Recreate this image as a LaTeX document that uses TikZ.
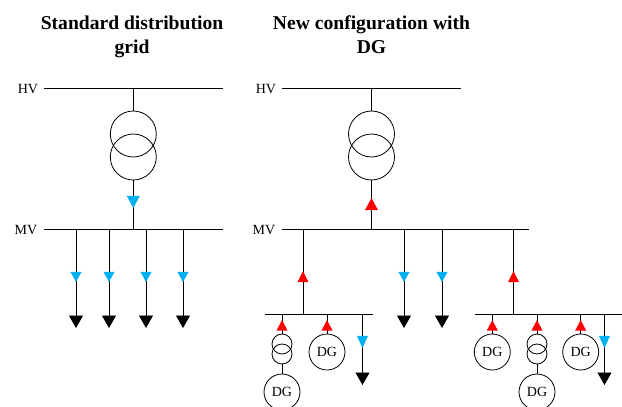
\documentclass[tikz,border=0pt]{standalone}
\usepackage{fontspec}
\setmainfont{Liberation Serif}
\usepackage{xcolor}
\usepackage{tikz}
\usetikzlibrary{arrows.meta,shapes.geometric}
\definecolor{flowblue}{RGB}{0,176,240}
\tikzset{
	bus/.style={line width=0.9pt},
	winding/.style={draw,circle,inner sep=0pt,line width=0.8pt},
	gen/.style={draw,circle,inner sep=0pt,minimum size=36pt,line width=0.8pt,font=\fontsize{14}{14}\selectfont},
	tip/.style={isosceles triangle,isosceles triangle stretches,inner sep=0pt,anchor=apex},
	down/.style={tip,shape border rotate=-90},
	up/.style={tip,shape border rotate=90},
	load/.style={-{Triangle[length=12.5pt,width=14pt]}},
	volt/.style={font=\fontsize{14}{14}\selectfont},
	heading/.style={anchor=base,font=\fontsize{19.6}{19.6}\selectfont\bfseries}
}
\begin{document}
\begin{tikzpicture}[x=1pt,y=-1pt,line width=0.8pt]
		\useasboundingbox (0,0) rectangle (622,407);
		%
		\node[heading] (T1) at (132,29) {Standard distribution};
		\node[heading] (T2) at (132,53) {grid};
		\node[heading] (T3) at (371.5,29) {New configuration with};
		\node[heading] (T4) at (371.5,53) {DG};
		%
		\node[volt] (HV1) at (28,89) {HV};
		\node[volt] (MV1) at (26,230) {MV};
		\node[volt] (HV2) at (266,89) {HV};
		\node[volt] (MV2) at (264,230) {MV};
		%
		% buses
		\coordinate (a1) at (44,88.5);
		\coordinate (a2) at (223,88.5);
		\coordinate (b1) at (44,229.5);
		\coordinate (b2) at (223,229.5);
		\coordinate (c1) at (282,88.5);
		\coordinate (c2) at (461,88.5);
		\coordinate (d1) at (282,229.5);
		\coordinate (d2) at (529,229.5);
		\coordinate (e1) at (265,314.5);
		\coordinate (e2) at (373,314.5);
		\coordinate (g1) at (475,314.5);
		\coordinate (g2) at (622,314.5);
		\draw[bus] (a1) -- (a2);
		\draw[bus] (b1) -- (b2);
		\draw[bus] (c1) -- (c2);
		\draw[bus] (d1) -- (d2);
		\draw[bus] (e1) -- (e2);
		\draw[bus] (g1) -- (g2);
		%
		% transformers
		\node[winding,minimum size=46pt] (P1) at (133.3,134) {};
		\node[winding,minimum size=46pt] (S1) at (133.3,157) {};
		\node[winding,minimum size=46pt] (P2) at (371.5,134) {};
		\node[winding,minimum size=46pt] (S2) at (371.5,157) {};
		\node[winding,minimum size=20pt] (P3) at (282,344) {};
		\node[winding,minimum size=20pt] (S3) at (282,354) {};
		\node[winding,minimum size=20pt] (P4) at (537,344) {};
		\node[winding,minimum size=20pt] (S4) at (537,354) {};
		%
		% generators
		\node[gen] (G1) at (282,392) {DG};
		\node[gen] (G2) at (327,352) {DG};
		\node[gen] (G3) at (492.3,352) {DG};
		\node[gen] (G4) at (537,392) {DG};
		\node[gen] (G5) at (580.7,352) {DG};
		%
		% taps on the buses
		\coordinate (a0) at (133.3,88.5);
		\coordinate (b0) at (133.3,229.5);
		\coordinate (c0) at (371.5,88.5);
		\coordinate (d0) at (371.5,229.5);
		\coordinate (f1) at (76,229.5);
		\coordinate (f2) at (109,229.5);
		\coordinate (f3) at (146,229.5);
		\coordinate (f4) at (183,229.5);
		\coordinate (l1) at (76,328);
		\coordinate (l2) at (109,328);
		\coordinate (l3) at (146,328);
		\coordinate (l4) at (183,328);
		\coordinate (h1) at (303,229.5);
		\coordinate (h2) at (404,229.5);
		\coordinate (h3) at (442,229.5);
		\coordinate (h4) at (513.5,229.5);
		\coordinate (i1) at (303,314.5);
		\coordinate (i2) at (513.5,314.5);
		\coordinate (m1) at (404,328);
		\coordinate (m2) at (442,328);
		\coordinate (j1) at (282,314.5);
		\coordinate (j2) at (327,314.5);
		\coordinate (j3) at (362.5,314.5);
		\coordinate (j4) at (492.3,314.5);
		\coordinate (j5) at (537,314.5);
		\coordinate (j6) at (580.7,314.5);
		\coordinate (j7) at (604.5,314.5);
		\coordinate (n1) at (362.5,385);
		\coordinate (n2) at (604.5,385);
		%
		\path[draw]
		(a0) edge (P1)
		(c0) edge (P2)
		(S1) edge (b0)
		(S2) edge (d0)
		(h1) edge (i1)
		(h4) edge (i2)
		(j1) edge (P3)
		(j2) edge (G2)
		(j4) edge (G3)
		(j5) edge (P4)
		(j6) edge (G5)
		(S3) edge (G1)
		(S4) edge (G4);
		\path[draw]
		(f1) edge[load] (l1)
		(f2) edge[load] (l2)
		(f3) edge[load] (l3)
		(f4) edge[load] (l4)
		(h2) edge[load] (m1)
		(h3) edge[load] (m2)
		(j3) edge[load] (n1)
		(j7) edge[load] (n2);
		%
		% power flow marks
		\node[down,fill=flowblue,minimum width=13pt,minimum height=12pt] (q0) at (133.3,209) {};
		\node[down,fill=flowblue,minimum width=11pt,minimum height=10pt] (q1) at (76,283) {};
		\node[down,fill=flowblue,minimum width=11pt,minimum height=10pt] (q2) at (109,283) {};
		\node[down,fill=flowblue,minimum width=11pt,minimum height=10pt] (q3) at (146,283) {};
		\node[down,fill=flowblue,minimum width=11pt,minimum height=10pt] (q4) at (183,283) {};
		\node[down,fill=flowblue,minimum width=11pt,minimum height=10pt] (q5) at (404,283) {};
		\node[down,fill=flowblue,minimum width=11pt,minimum height=10pt] (q6) at (442,283) {};
		\node[down,fill=flowblue,minimum width=11pt,minimum height=12pt] (q7) at (362.5,349) {};
		\node[down,fill=flowblue,minimum width=11pt,minimum height=12pt] (q8) at (604.5,349) {};
		%
		\node[up,fill=red,minimum width=13pt,minimum height=12pt] (r0) at (371.5,197) {};
		\node[up,fill=red,minimum width=11pt,minimum height=11pt] (r1) at (303,270) {};
		\node[up,fill=red,minimum width=11pt,minimum height=11pt] (r2) at (513.5,270) {};
		\node[up,fill=red,minimum width=11pt,minimum height=10.5pt] (r3) at (282,319) {};
		\node[up,fill=red,minimum width=11pt,minimum height=10.5pt] (r4) at (327,319) {};
		\node[up,fill=red,minimum width=11pt,minimum height=10.5pt] (r5) at (492.3,319) {};
		\node[up,fill=red,minimum width=11pt,minimum height=10.5pt] (r6) at (537,319) {};
		\node[up,fill=red,minimum width=11pt,minimum height=10.5pt] (r7) at (580.7,319) {};
		\end{tikzpicture}
\end{document}
